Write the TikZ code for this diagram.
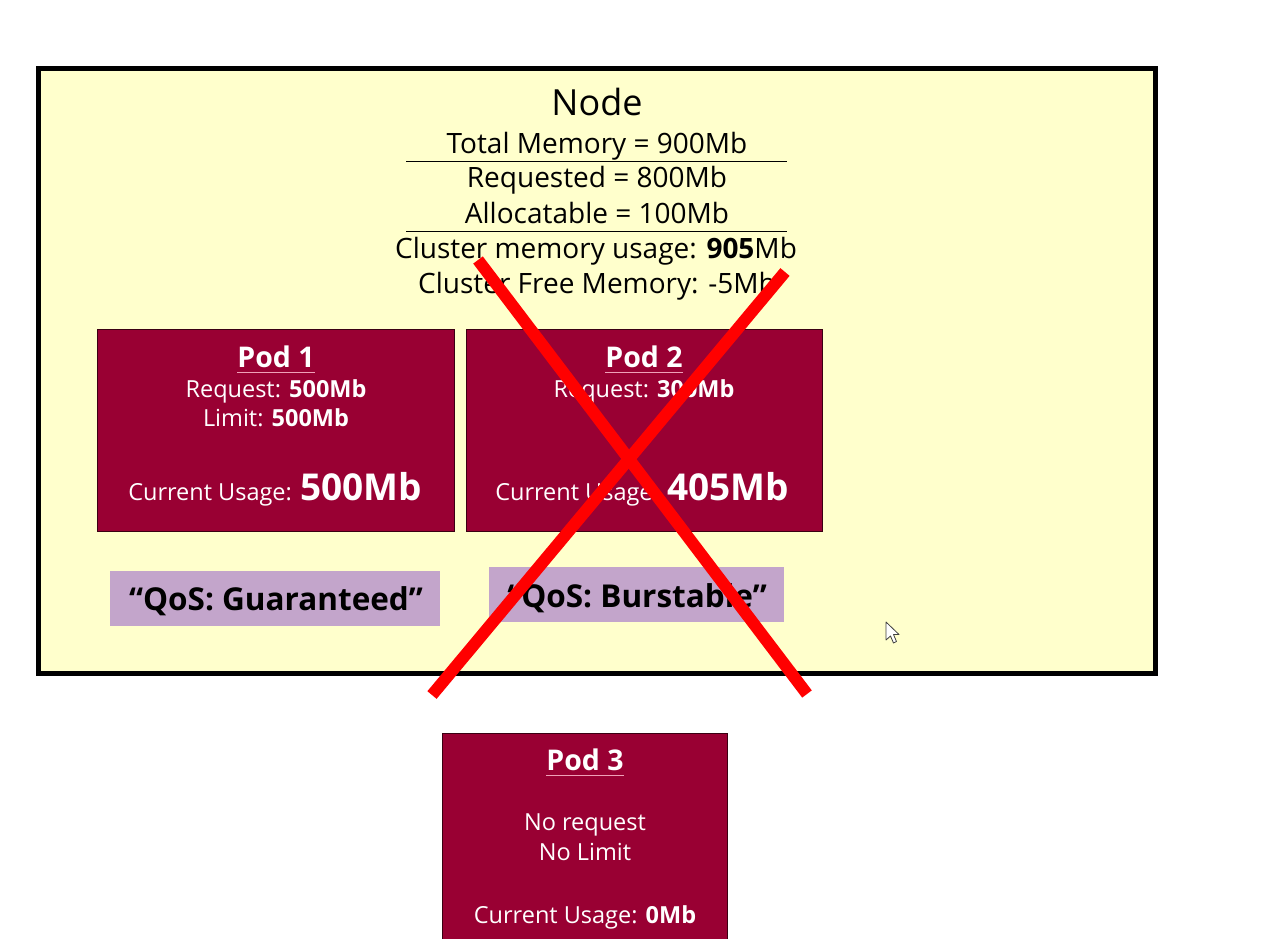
\documentclass[tikz,border=0pt]{standalone}
\usepackage{fontspec}
\setmainfont{Open Sans}
\definecolor{nodeyellow}{HTML}{FFFFCC}
\definecolor{podred}{HTML}{990033}
\definecolor{podedge}{HTML}{3A0012}
\definecolor{qospurple}{HTML}{C3A5CB}
\definecolor{crossred}{HTML}{FF0000}
\definecolor{ulpink}{HTML}{F0A0B8}
\tikzset{
  hdr/.style={inner sep=0pt, anchor=base, font=\fontsize{28}{32}\selectfont, text=black},
  podbox/.style={draw=podedge, line width=1pt, fill=podred},
  qosbox/.style={fill=qospurple, draw=none},
  podtitle/.style={inner sep=0pt, anchor=base, text=white, font=\bfseries\fontsize{28.5}{32}\selectfont},
  podtxt/.style={inner sep=0pt, anchor=base, text=white, font=\fontsize{23.5}{28}\selectfont},
  qostxt/.style={inner sep=0pt, anchor=base, text=black, font=\bfseries\fontsize{31.5}{36}\selectfont},
  ulline/.style={draw=ulpink, line width=1.3pt},
  cross/.style={draw=crossred, line width=12pt},
}
\begin{document}
\begin{tikzpicture}[x=1pt,y=-1pt]
\useasboundingbox (0,0) rectangle (1269,938);
\fill[white] (0,0) rectangle (1269,938);
% Node box
\node[draw=black, line width=5pt, fill=nodeyellow, minimum width=1116.5pt, minimum height=605pt, inner sep=0pt] (nodebox) at (596.75,371) {};
\node[hdr, font=\fontsize{36}{40}\selectfont] (ntitle) at (597,115) {Node};
\node[hdr] (total) at (597,153) {Total Memory = 900Mb};
\coordinate (l1a) at (406,161); \coordinate (l1b) at (787,161);
\draw[line width=1pt] (l1a) -- (l1b);
\node[hdr] (req) at (597,187) {Requested = 800Mb};
\node[hdr] (alloc) at (597,223) {Allocatable = 100Mb};
\coordinate (l2a) at (406,231); \coordinate (l2b) at (787,231);
\draw[line width=1pt] (l2a) -- (l2b);
\node[hdr] (usage) at (596,258) {Cluster memory usage: \textbf{905}Mb};
\node[hdr] (free) at (597,293) {Cluster Free Memory: -5Mb};
% Pod 1
\node[podbox, minimum width=357pt, minimum height=202pt, inner sep=0pt] (pod1) at (275.5,430) {};
\node[podtitle] (p1t) at (276,367) {Pod 1};
\draw[ulline] ([yshift=-5.5pt]p1t.base west) -- ([yshift=-5.5pt]p1t.base east);
\node[podtxt] (p1r) at (276,397) {Request: \textbf{500Mb}};
\node[podtxt] (p1l) at (276,426) {Limit: \textbf{500Mb}};
\node[podtxt] (p1u) at (275,500) {Current Usage: {\bfseries\fontsize{37}{40}\selectfont 500Mb}};
% Pod 2
\node[podbox, minimum width=356pt, minimum height=202pt, inner sep=0pt] (pod2) at (644,430) {};
\node[podtitle] (p2t) at (644,367) {Pod 2};
\draw[ulline] ([yshift=-5.5pt]p2t.base west) -- ([yshift=-5.5pt]p2t.base east);
\node[podtxt] (p2r) at (644,397) {Request: \textbf{300Mb}};
\node[podtxt] (p2u) at (642,500) {Current Usage: {\bfseries\fontsize{37}{40}\selectfont 405Mb}};
% QoS labels
\node[qosbox, minimum width=330pt, minimum height=55pt, inner sep=0pt] (qos1) at (275,598.5) {};
\node[qostxt] (q1t) at (276,610) {“QoS: Guaranteed”};
\node[qosbox, minimum width=295pt, minimum height=55pt, inner sep=0pt] (qos2) at (636.5,594.5) {};
\node[qostxt] (q2t) at (637,607) {“QoS: Burstable”};
% Pod 3
\node[podbox, minimum width=285pt, minimum height=212pt, inner sep=0pt] (pod3) at (584.5,839) {};
\node[podtitle] (p3t) at (585,770) {Pod 3};
\draw[ulline] ([yshift=-5.5pt]p3t.base west) -- ([yshift=-5.5pt]p3t.base east);
\node[podtxt] (p3r) at (585,830) {No request};
\node[podtxt] (p3l) at (585,860) {No Limit};
\node[podtxt] (p3u) at (585,923) {Current Usage: \textbf{0Mb}};
% Red cross
\coordinate (c1a) at (478,260); \coordinate (c1b) at (807,694);
\coordinate (c2a) at (785,272); \coordinate (c2b) at (432,695);
\draw[cross] (c1a) -- (c1b);
\draw[cross] (c2a) -- (c2b);
% Mouse cursor
\draw[fill=white, draw=black!75, line width=0.8pt, line join=round]
  (886,622) -- (886,640) -- (890.5,636) -- (893.5,643) -- (896.5,641.5) -- (893.5,634.5) -- (899,634.5) -- cycle;
\end{tikzpicture}
\end{document}
